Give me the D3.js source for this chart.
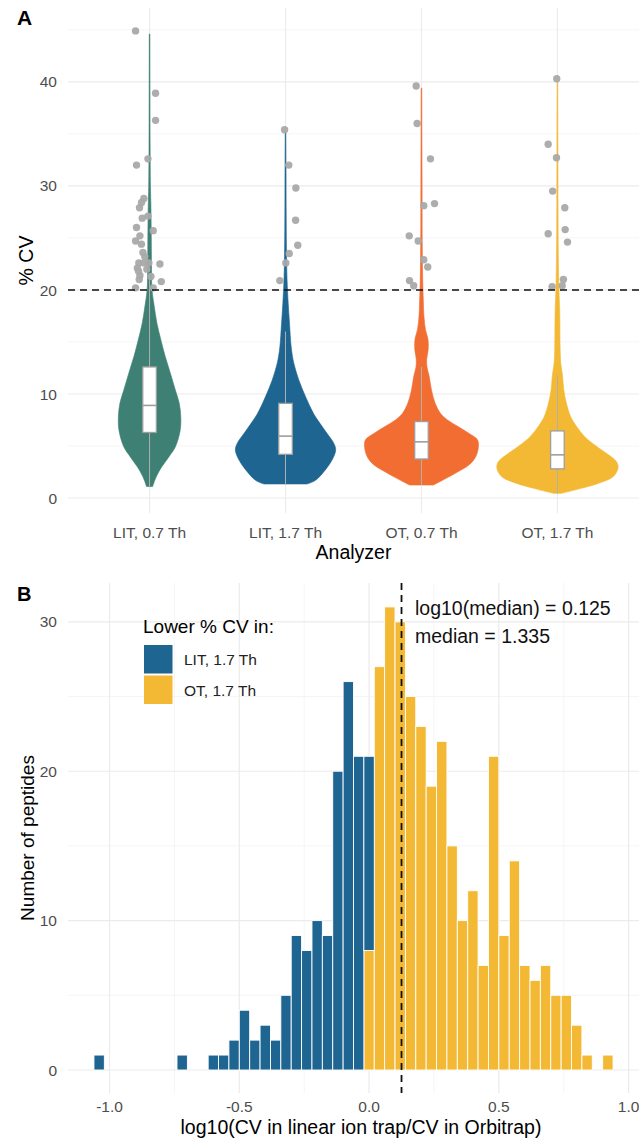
<!DOCTYPE html>
<html>
<head>
<meta charset="utf-8">
<script src="https://cdn.jsdelivr.net/npm/d3@7"></script>
<style>
    body { margin: 0; background: #ffffff; }
    svg text { font-family: "Liberation Sans", Arial, sans-serif; }
</style>
</head>
<body>
<div id="figure"></div>
<script>
// ---- panel A data ----
var analyzers = ["LIT, 0.7 Th", "LIT, 1.7 Th", "OT, 0.7 Th", "OT, 1.7 Th"];
var violinColors = ["#3e8073", "#1f6591", "#f26d32", "#f4b934"];
var yTicksA = [0, 10, 20, 30, 40];
var cvThreshold = 20;

// violin outlines: [%CV, relative density]
var violinLIT07 = [[1.1,0.05],[1.7,0.085],[2.4,0.14],[3.0,0.2],[4.0,0.32],[4.9,0.42],[6.5,0.5],[7.8,0.51],[9.1,0.485],[10.4,0.42],[12.0,0.34],[13.6,0.256],[15.2,0.185],[16.8,0.12],[18.4,0.077],[20,0.04],[22,0.032],[25,0.028],[28,0.022],[30,0.014],[34,0.009],[38,0.007],[44.6,0.005]];
var violinLIT17 = [[1.35,0.355],[1.7,0.49],[2.7,0.65],[3.65,0.76],[4.6,0.82],[5.25,0.79],[6.2,0.68],[7.2,0.56],[8.1,0.46],[9.7,0.33],[11.3,0.22],[12.95,0.136],[14.5,0.093],[16.8,0.065],[18.7,0.044],[21,0.025],[24,0.015],[28,0.01],[32,0.008],[35.2,0.005]];
var violinOT07 = [[1.25,0.196],[1.7,0.343],[2.4,0.56],[3.2,0.78],[3.97,0.887],[4.9,0.93],[5.6,0.915],[6.2,0.78],[6.9,0.59],[7.5,0.425],[8.1,0.315],[9.1,0.224],[10.4,0.163],[11.7,0.126],[12.6,0.09],[13.3,0.085],[14.3,0.11],[15.3,0.105],[16.2,0.065],[17.5,0.04],[19,0.03],[21,0.02],[25,0.012],[30,0.01],[35,0.007],[39.4,0.005]];
var violinOT17 = [[0.45,0.065],[0.93,0.39],[1.4,0.665],[2.05,0.91],[2.85,0.99],[3.5,0.964],[4.3,0.8],[4.9,0.654],[5.9,0.446],[6.9,0.31],[7.8,0.217],[9.1,0.147],[10.4,0.103],[11.7,0.085],[13,0.054],[14.5,0.044],[17.8,0.038],[20,0.025],[23,0.015],[28,0.01],[34,0.008],[40,0.005]];

// box stats: [lower whisker, Q1, median, Q3, upper whisker]
var boxStats = [[1.1, 6.3, 8.9, 12.6, 21.5], [1.35, 4.2, 5.95, 9.1, 16.0], [1.25, 3.75, 5.4, 7.35, 12.6], [0.45, 2.8, 4.15, 6.45, 11.8]];

// peptides with %CV > 20: [jitter (fraction of category step), %CV]
var highLIT07 = [[-0.103,44.9],[0.044,38.9],[0.044,36.3],[-0.096,32.0],[-0.012,32.6],[-0.042,28.8],[-0.059,28.4],[-0.074,27.9],[-0.012,27.1],[-0.054,26.9],[-0.096,26.0],[0.027,25.7],[-0.071,25.2],[-0.103,24.7],[-0.049,23.6],[-0.035,23.2],[-0.079,22.6],[-0.042,22.6],[-0.005,22.6],[0.076,22.5],[-0.09,22.1],[-0.071,21.4],[-0.076,21.0],[0.086,20.8],[-0.103,20.2],[0.027,20.2],[-0.081,21.8],[-0.02,22.0],[-0.06,24.4],[0.01,21.3]];
var highLIT17 = [[-0.007,35.4],[0.024,32.0],[0.076,29.8],[0.074,26.7],[0.09,24.3],[0.027,23.5],[0.002,22.6],[-0.042,20.9]];
var highOT07 = [[-0.039,39.6],[-0.032,36.0],[0.066,32.6],[0.017,28.1],[0.096,28.3],[-0.09,25.2],[-0.024,24.7],[0.017,22.9],[0.046,22.2],[-0.088,20.9],[-0.057,20.4]];
var highOT17 = [[-0.005,40.3],[-0.068,34.0],[-0.007,32.7],[-0.035,29.5],[0.054,27.9],[0.057,25.8],[-0.068,25.4],[0.074,24.6],[0.044,21.0],[0.035,20.4],[-0.039,20.3]];

// ---- panel B data ----
var binStart = -1.06;   // left edge of first bin
var binWidth = 0.04;
var countLIT = [1,0,0,0,0,0,0,0,1,0,0,1,1,2,4,2,3,2,5,9,8,10,9,20,26,21,13,0,0,0,0,0,0,0,0,0,0,0,0,0,0,0,0,0,0,0,0,0,0,0];
var countOT  = [0,0,0,0,0,0,0,0,0,0,0,0,0,0,0,0,0,0,0,0,0,0,0,0,0,0,8,27,31,30,25,23,19,22,15,10,12,7,21,9,14,7,6,7,5,5,3,1,0,1];
var histGroups = ["LIT, 1.7 Th", "OT, 1.7 Th"];
var histColors = ["#1f6591", "#f4b934"];
var xTicksB = [-1.0, -0.5, 0.0, 0.5, 1.0];
var yTicksB = [0, 10, 20, 30];
var log10Median = 0.125;
var medianRatio = 1.335;

var W = 639, H = 1143;
var tickColor = "#4d4d4d", gridColor = "#ebebeb";

var svg = d3.select("#figure")
            .append("svg")
                .attr("width", W)
                .attr("height", H);

drawPanelA();
drawPanelB();

function drawPanelA() {
    var left = 68, right = 639, top = 8, bottom = 513;

    var x = d3.scalePoint()
                .domain(analyzers)
                .range([left, right])
                .padding(0.6);
    var y = d3.scaleLinear()
                .domain([-1.44, 47.1])
                .range([bottom, top]);
    var w = d3.scaleLinear()
                .domain([0, 1])
                .range([0, 0.45 * x.step()]);

    var g = svg.append("g");

    // minor + major grid
    g.selectAll(".minorA")
        .data([5, 15, 25, 35, 45])
        .enter()
        .append("line")
            .attr("x1", left).attr("x2", right)
            .attr("y1", function(d) { return y(d); })
            .attr("y2", function(d) { return y(d); })
            .style("stroke", "#f2f2f2")
            .style("stroke-width", 0.8);
    g.selectAll(".majorA")
        .data(yTicksA)
        .enter()
        .append("line")
            .attr("x1", left).attr("x2", right)
            .attr("y1", function(d) { return y(d); })
            .attr("y2", function(d) { return y(d); })
            .style("stroke", gridColor)
            .style("stroke-width", 1.2);
    g.selectAll(".vgridA")
        .data(analyzers)
        .enter()
        .append("line")
            .attr("x1", function(d) { return x(d); })
            .attr("x2", function(d) { return x(d); })
            .attr("y1", top).attr("y2", bottom)
            .style("stroke", gridColor)
            .style("stroke-width", 1.2);

    // violins
    var violins = [violinLIT07, violinLIT17, violinOT07, violinOT17];
    var area = d3.area()
                .curve(d3.curveCatmullRom)
                .y(function(d) { return y(d[0]); });
    violins.forEach(function(profile, i) {
        var cx = x(analyzers[i]);
        area.x0(function(d) { return cx - w(d[1]); })
            .x1(function(d) { return cx + w(d[1]); });
        g.append("path")
            .datum(profile)
            .attr("d", area)
            .style("fill", violinColors[i])
            .style("stroke", violinColors[i])
            .style("stroke-width", 0.6);
    });

    // boxplots
    var boxW = 0.1 * x.step();
    boxStats.forEach(function(s, i) {
        var cx = x(analyzers[i]);
        g.append("line")
            .attr("x1", cx).attr("x2", cx)
            .attr("y1", y(s[0])).attr("y2", y(s[4]))
            .style("stroke", "#b0b0b0")
            .style("stroke-width", 1);
        g.append("rect")
            .attr("x", cx - boxW / 2)
            .attr("width", boxW)
            .attr("y", y(s[3]))
            .attr("height", y(s[1]) - y(s[3]))
            .style("fill", "#ffffff")
            .style("stroke", "#9e9e9e")
            .style("stroke-width", 1.3);
        g.append("line")
            .attr("x1", cx - boxW / 2).attr("x2", cx + boxW / 2)
            .attr("y1", y(s[2])).attr("y2", y(s[2]))
            .style("stroke", "#9e9e9e")
            .style("stroke-width", 1.6);
    });

    // jittered points above threshold
    var highs = [highLIT07, highLIT17, highOT07, highOT17];
    highs.forEach(function(pts, i) {
        var cx = x(analyzers[i]);
        g.selectAll(".pt" + i)
            .data(pts)
            .enter()
            .append("circle")
                .attr("cx", function(d) { return cx + d[0] * x.step(); })
                .attr("cy", function(d) { return y(d[1]); })
                .attr("r", 3.7)
                .style("fill", "#a9a9a9")
                .style("opacity", 0.95);
    });

    // threshold line
    g.append("line")
        .attr("x1", left).attr("x2", right)
        .attr("y1", y(cvThreshold)).attr("y2", y(cvThreshold))
        .style("stroke", "#111111")
        .style("stroke-width", 1.5)
        .style("stroke-dasharray", "7,5");

    // axes text
    g.selectAll(".ytA")
        .data(yTicksA)
        .enter()
        .append("text")
            .attr("x", 57)
            .attr("y", function(d) { return y(d); })
            .attr("dy", "0.36em")
            .attr("text-anchor", "end")
            .style("font-size", "15.5px")
            .style("fill", tickColor)
            .text(function(d) { return d; });
    g.selectAll(".xtA")
        .data(analyzers)
        .enter()
        .append("text")
            .attr("x", function(d) { return x(d); })
            .attr("y", 538)
            .attr("text-anchor", "middle")
            .style("font-size", "15.5px")
            .style("fill", tickColor)
            .text(function(d) { return d; });
    g.append("text")
        .attr("x", (left + right) / 2)
        .attr("y", 559)
        .attr("text-anchor", "middle")
        .style("font-size", "19.5px")
        .text("Analyzer");
    g.append("text")
        .attr("transform", "translate(33," + ((top + bottom) / 2) + ") rotate(-90)")
        .attr("text-anchor", "middle")
        .style("font-size", "19.5px")
        .text("% CV");
    g.append("text")
        .attr("x", 17).attr("y", 25)
        .style("font-size", "21px")
        .style("font-weight", "bold")
        .text("A");
}

function drawPanelB() {
    var left = 68, right = 639, top = 583, bottom = 1093;

    var x = d3.scaleLinear()
                .domain([-1.16, 1.04])
                .range([left, right]);
    var y = d3.scaleLinear()
                .domain([-1.54, 32.6])
                .range([bottom, top]);
    var color = d3.scaleOrdinal()
                .domain(histGroups)
                .range(histColors);

    var g = svg.append("g");

    g.selectAll(".vminB")
        .data([-0.75, -0.25, 0.25, 0.75])
        .enter()
        .append("line")
            .attr("x1", function(d) { return x(d); })
            .attr("x2", function(d) { return x(d); })
            .attr("y1", top).attr("y2", bottom)
            .style("stroke", "#f2f2f2")
            .style("stroke-width", 0.8);
    g.selectAll(".hminB")
        .data([5, 15, 25])
        .enter()
        .append("line")
            .attr("x1", left).attr("x2", right)
            .attr("y1", function(d) { return y(d); })
            .attr("y2", function(d) { return y(d); })
            .style("stroke", "#f2f2f2")
            .style("stroke-width", 0.8);
    g.selectAll(".vmajB")
        .data(xTicksB)
        .enter()
        .append("line")
            .attr("x1", function(d) { return x(d); })
            .attr("x2", function(d) { return x(d); })
            .attr("y1", top).attr("y2", bottom)
            .style("stroke", gridColor)
            .style("stroke-width", 1.2);
    g.selectAll(".hmajB")
        .data(yTicksB)
        .enter()
        .append("line")
            .attr("x1", left).attr("x2", right)
            .attr("y1", function(d) { return y(d); })
            .attr("y2", function(d) { return y(d); })
            .style("stroke", gridColor)
            .style("stroke-width", 1.2);

    // need rows of {bin, group counts} for d3.stack
    var rows = countLIT.map(function(c, k) {
        var row = {x0: binStart + k * binWidth};
        row[histGroups[0]] = c;
        row[histGroups[1]] = countOT[k];
        return row;
    });
    // OT at the bottom, LIT stacked on top
    var stacked = d3.stack().keys([histGroups[1], histGroups[0]])(rows);

    stacked.forEach(function(layer) {
        g.selectAll(".bar" + layer.index)
            .data(layer.filter(function(d) { return d[1] > d[0]; }))
            .enter()
            .append("rect")
                .attr("x", function(d) { return x(d.data.x0); })
                .attr("width", function(d) { return x(d.data.x0 + binWidth) - x(d.data.x0); })
                .attr("y", function(d) { return y(d[1]); })
                .attr("height", function(d) { return y(d[0]) - y(d[1]); })
                .style("fill", color(layer.key))
                .style("stroke", "#ffffff")
                .style("stroke-width", 0.9);
    });

    // median line
    g.append("line")
        .attr("x1", x(log10Median)).attr("x2", x(log10Median))
        .attr("y1", top).attr("y2", bottom)
        .style("stroke", "#111111")
        .style("stroke-width", 1.8)
        .style("stroke-dasharray", "7,5");

    g.append("text")
        .attr("x", 415).attr("y", 615)
        .style("font-size", "19.5px")
        .style("fill", "#111111")
        .text("log10(median) = " + log10Median.toFixed(3));
    g.append("text")
        .attr("x", 415).attr("y", 643)
        .style("font-size", "19.5px")
        .style("fill", "#111111")
        .text("median = " + medianRatio.toFixed(3));

    // legend
    var lg = g.append("g").attr("transform", "translate(143,0)");
    lg.append("text")
        .attr("x", 0).attr("y", 633)
        .style("font-size", "19px")
        .text("Lower % CV in:");
    histGroups.forEach(function(name, i) {
        lg.append("rect")
            .attr("x", 1).attr("y", 645 + i * 30.5)
            .attr("width", 28.5).attr("height", 28.5)
            .style("fill", color(name));
        lg.append("text")
            .attr("x", 41).attr("y", 665 + i * 30.5)
            .style("font-size", "15.5px")
            .style("fill", "#222222")
            .text(name);
    });

    // axes text
    g.selectAll(".xtB")
        .data(xTicksB)
        .enter()
        .append("text")
            .attr("x", function(d) { return x(d); })
            .attr("y", 1112)
            .attr("text-anchor", "middle")
            .style("font-size", "15.5px")
            .style("fill", tickColor)
            .text(function(d) { return d.toFixed(1); });
    g.selectAll(".ytB")
        .data(yTicksB)
        .enter()
        .append("text")
            .attr("x", 57)
            .attr("y", function(d) { return y(d); })
            .attr("dy", "0.36em")
            .attr("text-anchor", "end")
            .style("font-size", "15.5px")
            .style("fill", tickColor)
            .text(function(d) { return d; });
    g.append("text")
        .attr("x", 361)
        .attr("y", 1134)
        .attr("text-anchor", "middle")
        .style("font-size", "19.5px")
        .text("log10(CV in linear ion trap/CV in Orbitrap)");
    g.append("text")
        .attr("transform", "translate(34," + ((top + bottom) / 2) + ") rotate(-90)")
        .attr("text-anchor", "middle")
        .style("font-size", "19px")
        .text("Number of peptides");
    g.append("text")
        .attr("x", 17).attr("y", 601)
        .style("font-size", "20px")
        .style("font-weight", "bold")
        .text("B");
}
</script>
</body>
</html>
